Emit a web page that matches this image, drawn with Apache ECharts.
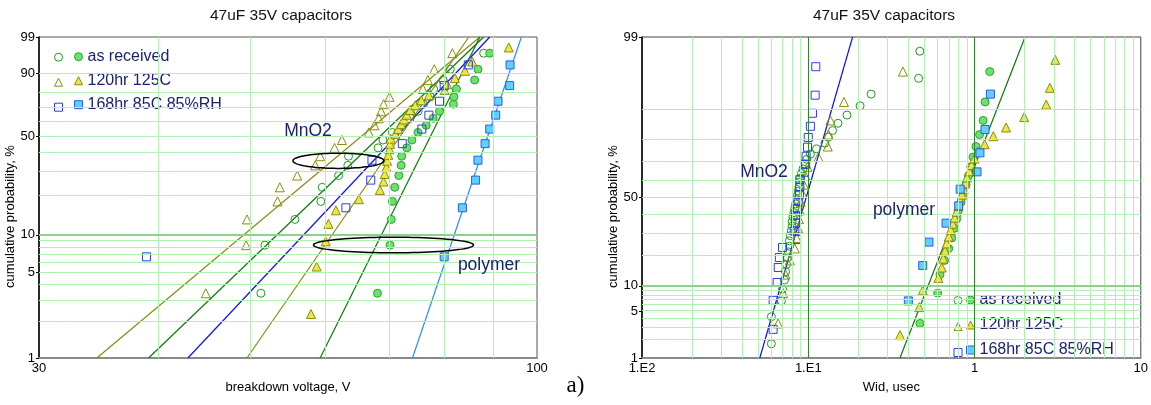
<!DOCTYPE html>
<html><head><meta charset="utf-8">
<script src="https://cdn.jsdelivr.net/npm/echarts@6/dist/echarts.min.js"></script>
<style>html,body{margin:0;padding:0;background:#fff}#c{width:1151px;height:405px}</style>
</head><body><div id="c"></div>
<script>
// ================= DATA =================
const chartTitle = '47uF 35V capacitors';
const leftXName = 'breakdown voltage, V';
const rightXName = 'Wid, usec';
const yName = 'cumulative probability, %';

const leftYTicks = [1, 5, 10, 50, 90, 99];
const rightYTicks = [1, 5, 10, 50, 99];
const rightXTicks = [0.01, 0.1, 1, 10];
const rightXTickLabels = ['1.E2', '1.E1', '1', '10'];

const leftXGrid = [40, 50, 60, 70, 80, 90];
const rightXGridMinor = [0.02,0.03,0.04,0.05,0.06,0.07,0.08,0.09,0.2,0.3,0.4,0.5,0.6,0.7,0.8,0.9,2,3,4,5,6,7,8,9];
const rightXGridMajor = [0.1, 1];
const probGridMinor = [2,3,4,5,6,7,8,9,20,30,40,50,60,70,80,90];
const probGridMajor = [10];

const legendLabels = ['as received', '120hr 125C', '168hr 85C 85%RH'];
const noteMnO2 = 'MnO2';
const notePoly = 'polymer';
const panelTag = 'a)';

// cumulative probability (%) of the ranked points
const rank10 = [6.7, 16.2, 25.9, 35.5, 45.2, 54.8, 64.5, 74.1, 83.8, 93.3];
const rank20 = [3.4, 8.3, 13.2, 18.1, 23.0, 27.9, 32.8, 37.7, 42.6, 47.5, 52.5, 57.4, 62.3, 67.2, 72.1, 77.0, 81.9, 86.8, 91.7, 96.6];
const rank30 = [2.3, 5.6, 8.9, 12.2, 15.5, 18.8, 22.0, 25.3, 28.6, 31.9, 35.2, 38.5, 41.8, 45.1, 48.4, 51.6, 54.9, 58.2, 61.5, 64.8, 68.1, 71.4, 74.7, 78.0, 81.3, 84.5, 87.8, 91.1, 94.4, 97.7];
const rank40 = [1.7, 4.2, 6.7, 9.2, 11.6, 14.1, 16.6, 19.1, 21.5, 24.0, 26.5, 29.0, 31.4, 33.9, 36.4, 38.9, 41.3, 43.8, 46.3, 48.8, 51.2, 53.7, 56.2, 58.7, 61.1, 63.6, 66.1, 68.6, 71.0, 73.5, 76.0, 78.5, 80.9, 83.4, 85.9, 88.4, 90.8, 93.3, 95.8, 98.3];

// ---- left: breakdown voltage, V (Weibull plot) ----
const vAsRecMnO2 = [51.3, 51.8, 55.7, 59.3, 59.5, 61.9, 63.3, 63.4, 68.1, 68.9, 70.5, 72.2, 73.6, 75.0, 76.0, 77.3, 77.9, 79.7, 81.1, 87.9];
const vAsRecPoly = [68.0, 70.1, 70.3, 70.5, 70.9, 71.6, 72.0, 72.1, 73.0, 73.9, 75.0, 76.5, 77.8, 79.0, 81.7, 81.8, 82.3, 86.0, 86.7, 89.2];
const v120MnO2 = [44.9, 49.5, 49.6, 53.4, 53.7, 56.0, 58.5, 59.2, 61.3, 62.4, 66.6, 67.5, 68.2, 68.6, 69.0, 70.0, 75.9, 76.8, 78.0, 81.5];
const v120Poly = [57.9, 58.7, 60.0, 60.4, 61.5, 65.0, 68.4, 69.0, 69.2, 69.5, 69.6, 69.8, 70.0, 70.1, 70.2, 71.0, 71.5, 72.0, 72.5, 73.0, 73.6, 74.5, 75.6, 77.0, 80.0, 80.5, 82.0, 84.0, 85.5, 93.4];
const v168MnO2 = [38.9, 63.0, 66.9, 67.1, 72.2, 75.7, 77.0, 79.0, 79.9, 84.7];
const v168Poly = [79.9, 83.5, 86.2, 86.7, 88.2, 89.2, 90.5, 91.0, 93.6, 93.7];
// fitted lines: value at 1 % and at 99 %
const fitEnds = [1, 99];
const vFit120MnO2 = [34.5, 87.1];
const vFitAsRecMnO2 = [39.1, 87.9];
const vFit168MnO2 = [43.0, 89.2];
const vFit120Poly = [49.6, 84.8];
const vFitAsRecPoly = [59.2, 87.1];
const vFit168Poly = [74.0, 96.3];

// ---- right: Wid, usec (log-normal plot) ----
const wAsRecMnO2 = [0.060, 0.060, 0.069, 0.070, 0.072, 0.073, 0.074, 0.075, 0.076, 0.077, 0.077, 0.078, 0.079, 0.080, 0.080, 0.081, 0.082, 0.083, 0.084, 0.085, 0.086, 0.087, 0.088, 0.089, 0.090, 0.091, 0.093, 0.095, 0.098, 0.103, 0.112, 0.126, 0.132, 0.140, 0.151, 0.171, 0.205, 0.239, 0.461, 0.469];
const wAsRecPoly = [0.470, 0.600, 0.620, 0.66, 0.70, 0.73, 0.76, 0.78, 0.80, 0.83, 0.86, 0.89, 0.92, 0.95, 0.98, 1.02, 1.072, 1.127, 1.157, 1.235];
const w120MnO2 = [0.0658, 0.0706, 0.0730, 0.0775, 0.0830, 0.085, 0.087, 0.088, 0.089, 0.090, 0.092, 0.094, 0.096, 0.099, 0.115, 0.131, 0.132, 0.136, 0.164, 0.371];
const w120Poly = [0.356, 0.465, 0.488, 0.606, 0.635, 0.649, 0.664, 0.68, 0.70, 0.72, 0.74, 0.76, 0.78, 0.80, 0.82, 0.84, 0.86, 0.88, 0.90, 0.93, 0.96, 1.00, 1.05, 1.15, 1.298, 1.548, 1.99, 2.70, 2.84, 3.06];
const w168MnO2 = [0.0615, 0.0615, 0.065, 0.066, 0.067, 0.070, 0.085, 0.083, 0.084, 0.084, 0.086, 0.087, 0.0885, 0.089, 0.089, 0.095, 0.0965, 0.097, 0.099, 0.100, 0.103, 0.106, 0.110, 0.111];
const p168MnO2 = [2.8, 6.8, 10.9, 15.5, 19.2, 23.4, 27.1, 31.4, 35.6, 39.8, 43.6, 47.8, 51.7, 56.0, 60.2, 64.3, 68.5, 72.5, 76.7, 80.8, 84.9, 88.9, 93.1, 97.1];
const w168Poly = [0.400, 0.488, 0.532, 0.674, 0.803, 0.82, 1.035, 1.078, 1.157, 1.247];
const wFitMnO2 = [0.0511, 0.1848];
const wFitPoly = [0.356, 2.014];

// ================= HELPERS =================
const FONT = '"Liberation Sans", Arial, sans-serif';
const NAVY = '#1b2270';
const GRID_LIGHT = '#b0f0b0';
const GRID_10 = '#8fcf8f';
const GRID_DARK = '#2a8a2a';

function weib(pct) { const p = pct / 100; return Math.log(-Math.log(1 - p)); }
function probit(pct) {
  const p = pct / 100;
  const a=[-3.969683028665376e+01,2.209460984245205e+02,-2.759285104469687e+02,1.383577518672690e+02,-3.066479806614716e+01,2.506628277459239e+00];
  const b=[-5.447609879822406e+01,1.615858368580409e+02,-1.556989798598866e+02,6.680131188771972e+01,-1.328068155288572e+01];
  const c=[-7.784894002430293e-03,-3.223964580411365e-01,-2.400758277161838e+00,-2.549732539343734e+00,4.374664141464968e+00,2.938163982698783e+00];
  const d=[7.784695709041462e-03,3.224671290700398e-01,2.445134137142996e+00,3.754408661907416e+00];
  const pl = 0.02425, ph = 1 - pl; let q, r;
  if (p < pl) { q = Math.sqrt(-2*Math.log(p)); return (((((c[0]*q+c[1])*q+c[2])*q+c[3])*q+c[4])*q+c[5])/((((d[0]*q+d[1])*q+d[2])*q+d[3])*q+1); }
  if (p <= ph) { q = p - 0.5; r = q*q; return (((((a[0]*r+a[1])*r+a[2])*r+a[3])*r+a[4])*r+a[5])*q/(((((b[0]*r+b[1])*r+b[2])*r+b[3])*r+b[4])*r+1); }
  q = Math.sqrt(-2*Math.log(1-p)); return -(((((c[0]*q+c[1])*q+c[2])*q+c[3])*q+c[4])*q+c[5])/((((d[0]*q+d[1])*q+d[2])*q+d[3])*q+1);
}

const ST = {
  recOpen:  {symbol:'circle',   size:8, fill:'rgba(255,255,255,0)', stroke:'#1f9a1f'},
  recFill:  {symbol:'circle',   size:8, fill:'#6fe06f', stroke:'#2aa52a'},
  h120Open: {symbol:'triangle', size:9, fill:'rgba(255,255,255,0)', stroke:'#8c8c0a'},
  h120Fill: {symbol:'triangle', size:9, fill:'#e8e84a', stroke:'#8c8c0a'},
  h168Open: {symbol:'rect',     size:8, fill:'rgba(255,255,255,0)', stroke:'#2b3cf0'},
  h168Fill: {symbol:'rect',     size:8, fill:'#5fd0ff', stroke:'#2b5cf0'}
};
const LC = {green:'#0a7a0a', olive:'#8a8a10', blue:'#1010f0', light:'#2a8cff'};

function scatter(name, xs, ps, tf, gi, st) {
  return { name, type:'scatter', xAxisIndex:gi, yAxisIndex:gi, symbol:st.symbol, symbolSize:st.size,
    itemStyle:{color:st.fill, borderColor:st.stroke, borderWidth:1, opacity:1},
    data: xs.map((x,i)=>[x, tf(ps[i])]), z:4, silent:true };
}
function fit(xs, color, tf, gi) {
  return { type:'line', xAxisIndex:gi, yAxisIndex:gi, data: xs.map((x,i)=>[x, tf(fitEnds[i])]),
    showSymbol:false, symbol:'none', lineStyle:{color, width:1.2}, z:3, silent:true };
}
function gridSeries(gi, tf, xMinor, xMajor, x0) {
  const data = [];
  xMinor.forEach(v => data.push({xAxis:v, lineStyle:{color:GRID_LIGHT, width:1, type:'solid'}}));
  probGridMinor.forEach(p => data.push({yAxis:tf(p), lineStyle:{color:GRID_LIGHT, width:1, type:'solid'}}));
  probGridMajor.forEach(p => data.push({yAxis:tf(p), lineStyle:{color:GRID_10, width:2, type:'solid'}}));
  xMajor.forEach(v => data.push({xAxis:v, lineStyle:{color:GRID_DARK, width:1, type:'solid'}}));
  return { type:'line', xAxisIndex:gi, yAxisIndex:gi, data:[[x0, tf(1)]], showSymbol:false, symbol:'none',
    lineStyle:{width:0}, z:1, silent:true,
    markLine:{silent:true, symbol:['none','none'], label:{show:false}, animation:false, data} };
}
function yLabel(ticks, tf) {
  return v => { const t = ticks.find(p => Math.abs(tf(p) - v) < 1e-6); return t === undefined ? '' : String(t); };
}
function ellipse(cx, cy, rx, ry) {
  const pts = []; for (let i = 0; i < 90; i++) { const a = i / 90 * Math.PI * 2; pts.push([cx + rx*Math.cos(a), cy + ry*Math.sin(a)]); }
  return {type:'polygon', shape:{points:pts}, style:{fill:'none', stroke:'#000', lineWidth:1.5}, z:20, silent:true};
}
function note(text, x, y, size, color, family) {
  return {type:'text', x, y, z:20, silent:true, style:{text, fontSize:size, fontFamily:family || FONT, fill:color, align:'center', verticalAlign:'middle', textAlign:'center', textVerticalAlign:'middle'}};
}

// names
const N = {
  lRecO:'Vbd as received MnO2', lRecF:'Vbd as received polymer', l120O:'Vbd 120hr MnO2', l120F:'Vbd 120hr polymer', l168O:'Vbd 168hr MnO2', l168F:'Vbd 168hr polymer',
  rRecO:'Wid as received MnO2', rRecF:'Wid as received polymer', r120O:'Wid 120hr MnO2', r120F:'Wid 120hr polymer', r168O:'Wid 168hr MnO2', r168F:'Wid 168hr polymer'
};
const legendText = {};
[[N.lRecF, 0], [N.l120F, 1], [N.l168F, 2], [N.rRecF, 0], [N.r120F, 1], [N.r168F, 2]].forEach(([n, i]) => legendText[n] = legendLabels[i]);

const axisLabelStyle = {fontSize:13, color:'#000', fontFamily:FONT};
const nameStyle = {fontSize:13, color:'#000', fontFamily:FONT};

function legendPair(openNames, fillNames, xOpen, xFill, top, gap) {
  const common = {orient:'vertical', itemWidth:8, itemHeight:8, selectedMode:false, padding:0, itemStyle:{borderWidth:1}};
  return [
    Object.assign({}, common, {data:openNames, left:xOpen, top:top + 4, itemGap:gap + 8, formatter:()=>''}),
    Object.assign({}, common, {data:fillNames, left:xFill, top:top, itemGap:gap, formatter:n=>legendText[n],
      textStyle:{fontSize:16, color:NAVY, fontFamily:FONT}})
  ];
}

const option = {
  animation:false,
  backgroundColor:'#fff',
  title:[
    {text:chartTitle, left:281, top:8, textAlign:'center', padding:0, textStyle:{fontSize:15.5, fontWeight:'normal', color:'#111', fontFamily:FONT}},
    {text:chartTitle, left:884, top:8, textAlign:'center', padding:0, textStyle:{fontSize:15.5, fontWeight:'normal', color:'#111', fontFamily:FONT}}
  ],
  legend: [].concat(
    legendPair([N.lRecO, N.l120O, N.l168O], [N.lRecF, N.l120F, N.l168F], 54, 74, 48.7, 8),
    legendPair([N.rRecO, N.r120O, N.r168O], [N.rRecF, N.r120F, N.r168F], 953.5, 966, 292, 9)
  ),
  grid:[
    {left:39, top:37, width:498, height:321, show:true, borderColor:'#555', borderWidth:1, backgroundColor:'#fff'},
    {left:642, top:37, width:499, height:321, show:true, borderColor:'#444', borderWidth:1, backgroundColor:'#fff'}
  ],
  xAxis:[
    {type:'log', logBase:10, gridIndex:0, min:30, max:100, name:leftXName, nameLocation:'middle', nameGap:23, nameTextStyle:nameStyle,
      axisLine:{show:true, onZero:false, lineStyle:{color:'#8a8a8a', width:2}}, axisTick:{show:false}, splitLine:{show:false}, minorTick:{show:false},
      axisLabel:Object.assign({margin:4, formatter:v=>String(Math.round(v))}, axisLabelStyle)},
    {type:'log', logBase:10, gridIndex:1, min:0.01, max:10, name:rightXName, nameLocation:'middle', nameGap:23, nameTextStyle:nameStyle,
      axisLine:{show:true, onZero:false, lineStyle:{color:'#8a8a8a', width:2}}, axisTick:{show:false}, splitLine:{show:false}, minorTick:{show:false},
      axisLabel:Object.assign({margin:4, formatter:v=>{ const i = rightXTicks.findIndex(t=>Math.abs(v/t-1)<1e-3); return i<0?'':rightXTickLabels[i]; }}, axisLabelStyle)}
  ],
  yAxis:[
    {type:'value', gridIndex:0, min:weib(1), max:weib(99), name:yName, nameLocation:'middle', nameGap:18, nameRotate:90,
      nameTextStyle:Object.assign({padding:[0,38,0,0]}, nameStyle),
      axisLine:{show:true, onZero:false, lineStyle:{color:'#000', width:1.5}},
      axisTick:{show:true, length:3, customValues:leftYTicks.map(weib), lineStyle:{color:'#000'}},
      splitLine:{show:false},
      axisLabel:Object.assign({margin:4, customValues:leftYTicks.map(weib), formatter:yLabel(leftYTicks, weib)}, axisLabelStyle)},
    {type:'value', gridIndex:1, min:probit(1), max:probit(99), name:yName, nameLocation:'middle', nameGap:18, nameRotate:90,
      nameTextStyle:Object.assign({padding:[0,38,0,0]}, nameStyle),
      axisLine:{show:true, onZero:false, lineStyle:{color:'#000', width:1.5}},
      axisTick:{show:true, length:3, customValues:rightYTicks.map(probit), lineStyle:{color:'#000'}},
      splitLine:{show:false},
      axisLabel:Object.assign({margin:4, customValues:rightYTicks.map(probit), formatter:yLabel(rightYTicks, probit)}, axisLabelStyle)}
  ],
  series:[
    gridSeries(0, weib, leftXGrid, [], 30),
    gridSeries(1, probit, rightXGridMinor, rightXGridMajor, 0.01),
    fit(vFit120MnO2, LC.olive, weib, 0),
    fit(vFitAsRecMnO2, LC.green, weib, 0),
    fit(vFit168MnO2, LC.blue, weib, 0),
    fit(vFit120Poly, LC.olive, weib, 0),
    fit(vFitAsRecPoly, LC.green, weib, 0),
    fit(vFit168Poly, LC.light, weib, 0),
    fit(wFitMnO2, LC.blue, probit, 1),
    fit(wFitPoly, LC.green, probit, 1),
    scatter(N.lRecO, vAsRecMnO2, rank20, weib, 0, ST.recOpen),
    scatter(N.lRecF, vAsRecPoly, rank20, weib, 0, ST.recFill),
    scatter(N.l120O, v120MnO2, rank20, weib, 0, ST.h120Open),
    scatter(N.l120F, v120Poly, rank30, weib, 0, ST.h120Fill),
    scatter(N.l168O, v168MnO2, rank10, weib, 0, ST.h168Open),
    scatter(N.l168F, v168Poly, rank10, weib, 0, ST.h168Fill),
    scatter(N.rRecO, wAsRecMnO2, rank40, probit, 1, ST.recOpen),
    scatter(N.rRecF, wAsRecPoly, rank20, probit, 1, ST.recFill),
    scatter(N.r120O, w120MnO2, rank20, probit, 1, ST.h120Open),
    scatter(N.r120F, w120Poly, rank30, probit, 1, ST.h120Fill),
    scatter(N.r168O, w168MnO2, p168MnO2, probit, 1, ST.h168Open),
    scatter(N.r168F, w168Poly, rank10, probit, 1, ST.h168Fill)
  ],
  graphic:[
    ellipse(338.4, 160.8, 45.5, 7.6),
    ellipse(393.5, 245, 80, 7.8),
    note(noteMnO2, 308, 131, 17.5, NAVY),
    note(notePoly, 489, 265, 17.5, NAVY),
    note(noteMnO2, 764, 172, 17.5, NAVY),
    note(notePoly, 904, 210, 17.5, NAVY),
    note(panelTag, 575.5, 386, 23, '#000', '"Liberation Serif", "Times New Roman", serif')
  ]
};

const chart = echarts.init(document.getElementById('c'), null, {renderer:'canvas'});
chart.setOption(option);
</script>
</body></html>
